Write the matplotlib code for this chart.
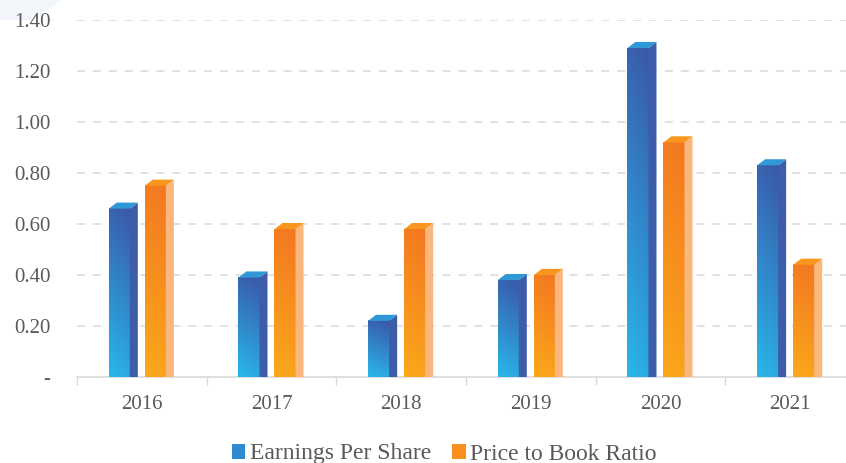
import numpy as np
import matplotlib.pyplot as plt
from matplotlib.patches import Polygon, Patch
from matplotlib.colors import to_rgb

years = ["2016", "2017", "2018", "2019", "2020", "2021"]
eps = [0.66, 0.39, 0.22, 0.38, 1.29, 0.83]
pbr = [0.75, 0.58, 0.58, 0.40, 0.92, 0.44]
y_ticks = [0, 0.2, 0.4, 0.6, 0.8, 1.0, 1.2, 1.4]
y_tick_labels = ["-", "0.20", "0.40", "0.60", "0.80", "1.00", "1.20", "1.40"]

TEXT = "#595959"
GRID = "#D9D9D9"

# front gradient (top colour, bottom colour), side colour, top colour
eps_style = dict(top="#3A58A8", bottom="#29B6E9", side="#3D5DAB", cap="#2F98D6")
pbr_style = dict(top="#F37721", bottom="#FBA91B", side="#F9B77E", cap="#F8961D")

BAR_W = 0.162      # front face width (category units)
DX = 0.062         # depth offset to the right
DY = 0.024         # depth offset upwards

plt.rcParams["font.family"] = ["Liberation Serif", "DejaVu Serif"]

fig = plt.figure(figsize=(8.46, 4.63), dpi=100)
ax = fig.add_axes([77 / 846, 86 / 463, 778 / 846, 357 / 463])
ax.set_zorder(2)

# faint decorative band in the corner
fig.patches.append(Polygon([(0, 1), (62 / 846, 1), (32 / 846, 1 - 20 / 463), (0, 1 - 20 / 463)],
                           closed=True, transform=fig.transFigure, facecolor="#F2F6FB",
                           edgecolor="none", zorder=-1))


def gradient_rgb(top, bottom, n=64):
    t = np.linspace(0, 1, n)[:, None]          # 0 bottom -> 1 top
    s = np.linspace(0, 1, 8)[None, :]
    f = np.clip(0.88 * t + 0.12 * s, 0, 1)[..., None]
    c0 = np.array(to_rgb(bottom))
    c1 = np.array(to_rgb(top))
    return c0 * (1 - f) + c1 * f


def draw_bar(x0, v, st):
    x1 = x0 + BAR_W
    img = gradient_rgb(st["top"], st["bottom"])
    ax.imshow(img, extent=(x0, x1, 0, v), origin="lower", aspect="auto",
              interpolation="bilinear", zorder=3)
    side = Polygon([(x1, 0), (x1, v), (x1 + DX, v + DY), (x1 + DX, 0)],
                   closed=True, facecolor=st["side"], edgecolor="none", zorder=3)
    cap = Polygon([(x0, v), (x1, v), (x1 + DX, v + DY), (x0 + DX, v + DY)],
                  closed=True, facecolor=st["cap"], edgecolor="none", zorder=3)
    ax.add_patch(side)
    ax.add_patch(cap)


x = np.arange(len(years))
for i in range(len(years)):
    draw_bar(x[i] - 0.255, eps[i], eps_style)
    draw_bar(x[i] + 0.023, pbr[i], pbr_style)

# dashed horizontal grid
for yv in y_ticks[1:]:
    ax.axhline(yv, color=GRID, lw=1.1, linestyle=(0, (5.2, 5.2)), zorder=1)

ax.set_xlim(-0.5, len(years) - 0.5)
ax.set_ylim(0, 1.4)

ax.set_yticks(y_ticks)
ax.set_yticklabels(y_tick_labels)
ax.set_xticks(x)
ax.set_xticklabels(years)
ax.set_xticks(np.arange(len(years) + 1) - 0.5, minor=True)

ax.tick_params(axis="y", length=0, pad=19, labelsize=15, labelcolor=TEXT)
ax.tick_params(axis="x", which="major", length=0, pad=13, labelsize=15, labelcolor=TEXT)
ax.tick_params(axis="x", which="minor", length=6, width=1, color=GRID)

for side in ["top", "right", "left"]:
    ax.spines[side].set_visible(False)
ax.spines["bottom"].set_color(GRID)
ax.spines["bottom"].set_linewidth(1.2)
ax.set_facecolor("none")

handles = [Patch(facecolor="#2F8AD0", edgecolor="none", label="Earnings Per Share"),
           Patch(facecolor="#F7901E", edgecolor="none", label="Price to Book Ratio")]
fig.legend(handles=handles, loc="center", bbox_to_anchor=(444 / 846, 9 / 463),
           ncol=2, frameon=False, fontsize=17, labelcolor=TEXT,
           handlelength=0.59, handleheight=0.59, handletextpad=0.17,
           columnspacing=0.9, borderaxespad=0, borderpad=0)

fig.savefig("out.png", dpi=100)
